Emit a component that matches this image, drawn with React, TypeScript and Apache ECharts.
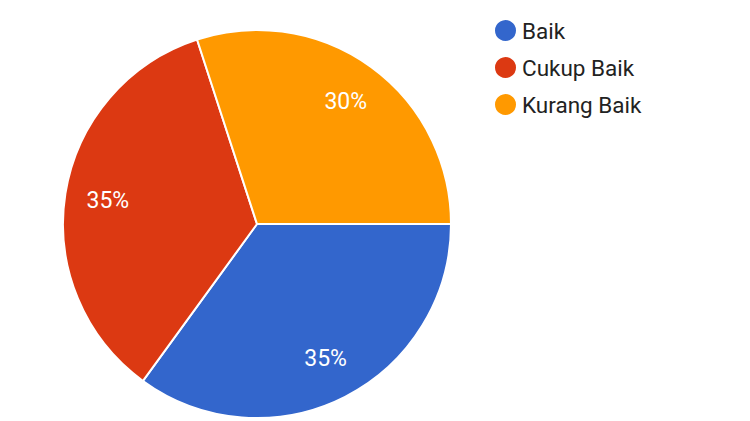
import React, { useEffect, useRef } from "react";
import * as echarts from "echarts";

const categories = ["Baik", "Cukup Baik", "Kurang Baik"];
const values = [35, 35, 30];
const colors = ["#3366cc", "#dc3912", "#ff9900"];

export default function App() {
  const ref = useRef<HTMLDivElement>(null);
  useEffect(() => {
    if (!ref.current) return;
    const chart = echarts.init(ref.current, undefined, { renderer: "svg" });
    const data = categories.map((name, i) => ({
      name,
      value: values[i],
      itemStyle: { color: colors[i] },
    }));
    chart.setOption({
      animation: false,
      backgroundColor: "#ffffff",
      legend: {
        orient: "vertical",
        left: 488,
        top: 13,
        icon: "circle",
        itemWidth: 23,
        itemHeight: 23,
        itemGap: 12,
        data: categories,
        textStyle: {
          fontFamily: "Roboto",
          fontSize: 22.5,
          color: "#222222",
        },
      },
      series: [
        {
          type: "pie",
          center: [257, 224],
          radius: [0, 194],
          startAngle: 0,
          clockwise: true,
          label: { show: false },
          labelLine: { show: false },
          itemStyle: { borderColor: "#ffffff", borderWidth: 2 },
          emphasis: { disabled: true },
          silent: true,
          data,
        },
        {
          type: "pie",
          center: [257, 224],
          radius: [102, 194],
          startAngle: 0,
          clockwise: true,
          silent: true,
          emphasis: { disabled: true },
          itemStyle: { color: "transparent", borderWidth: 0 },
          label: {
            show: true,
            position: "inside",
            formatter: "{d}%",
            color: "#ffffff",
            fontFamily: "Roboto",
            fontSize: 23,
          },
          labelLine: { show: false },
          data: categories.map((name, i) => ({
            name,
            value: values[i],
            itemStyle: { color: "transparent" },
          })),
        },
      ],
    });
    return () => chart.dispose();
  }, []);
  return (
    <div
      ref={ref}
      style={{ position: "fixed", left: 0, top: 0, width: 750, height: 421 }}
    />
  );
}
